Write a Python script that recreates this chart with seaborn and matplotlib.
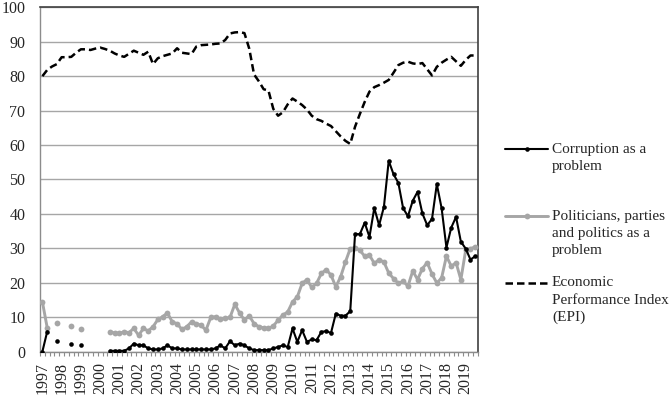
import numpy as np
import pandas as pd
import matplotlib.pyplot as plt
import seaborn as sns
from matplotlib.lines import Line2D

nan = np.nan

# quarterly observations, 1997 Q1 .. 2019 Q3
years = list(range(1997, 2020))

corruption = [
    0.0, 5.8, nan, 3.1, nan, nan, 2.1, nan, 1.9, nan, nan, nan, nan, nan,
    0.2, 0.2, 0.2, 0.2, 0.9, 2.3, 1.8, 1.8, 0.9, 0.6, 0.6, 0.9, 1.8, 0.9, 0.9,
    0.6, 0.6, 0.6, 0.6, 0.6, 0.6, 0.6, 0.9, 1.8, 0.9, 3.0, 1.8, 2.3, 1.8,
    0.9, 0.4, 0.4, 0.4, 0.4, 0.9, 1.3, 1.8, 1.3, 6.7, 2.8, 6.2, 2.8, 3.5, 3.3,
    5.7, 5.9, 5.4, 11.0, 10.4, 10.4, 11.7, 34.1, 34.1, 37.4, 33.3, 41.7, 36.7,
    42.0, 55.4, 51.5, 49.0, 41.6, 39.3, 43.8, 46.4, 40.1, 36.7, 38.5, 48.6,
    41.6, 30.2, 36.0, 39.1, 31.9, 29.9, 26.7, 27.7,
]

politicians = [
    14.4, 6.9, nan, 8.4, nan, nan, 7.4, nan, 6.4, nan, nan, nan, nan, nan,
    5.7, 5.4, 5.3, 5.7, 5.5, 6.7, 4.7, 6.7, 6.0, 7.2, 9.3, 10.1, 11.2, 8.6, 8.1,
    6.4, 7.2, 8.6, 8.1, 7.6, 6.2, 9.9, 10.1, 9.3, 9.6, 9.9, 13.7, 11.2, 9.1,
    10.4, 8.1, 7.2, 6.9, 6.7, 7.4, 9.1, 10.6, 11.5, 14.4, 15.9, 19.8, 20.9,
    18.6, 19.8, 22.7, 23.8, 22.2, 18.8, 21.7, 26.0, 29.9, 30.2, 29.4, 27.7,
    28.0, 25.6, 26.7, 26.0, 22.8, 21.2, 19.8, 20.4, 19.0, 23.4, 20.9, 24.1,
    25.8, 22.5, 19.9, 21.4, 27.7, 24.8, 25.8, 20.9, 29.4, 29.9, 30.4,
]

epi = [
    80.0, 81.8, 82.8, 83.5, 85.5, 85.5, 85.6, 86.8, 87.8, 87.8, 87.6, 88.0,
    88.3, 87.9, 87.4, 86.6, 86.0, 85.6, 86.5, 87.4, 86.8, 86.2, 87.1, 83.5,
    85.2, 85.8, 86.2, 86.6, 88.1, 86.8, 86.6, 86.4, 88.6, 89.0, 89.1, 89.2,
    89.4, 89.5, 90.5, 92.4, 92.7, 92.8, 92.5, 88.0, 80.5, 78.5, 76.2, 75.8,
    70.5, 68.5, 69.5, 71.8, 73.5, 72.6, 71.6, 70.3, 68.5, 67.5, 67.0, 66.2,
    65.5, 64.0, 62.5, 61.2, 60.3, 65.3, 69.0, 72.5, 75.5, 76.8, 77.4, 78.1,
    78.9, 81.0, 83.2, 83.9, 84.2, 83.7, 83.5, 83.8, 82.0, 80.2, 82.7, 83.9,
    84.8, 85.6, 84.3, 83.0, 84.7, 86.0, 86.0,
]

labels = ["Corruption as a\nproblem",
          "Politicians, parties\nand politics as a\nproblem",
          "Economic\nPerformance Index\n(EPI)"]

n = len(epi)
q = np.arange(n)


def segments(values):
    s = pd.Series(values, dtype=float)
    df = pd.DataFrame({"q": q, "val": s, "seg": s.isna().cumsum()})
    return df.dropna()


sns.set_style("white")
plt.rcParams["font.family"] = ["Liberation Serif", "DejaVu Serif"]

W, H = 671, 397
fig = plt.figure(figsize=(W / 100, H / 100), dpi=100)
ax = fig.add_axes([40 / W, 1 - 351.5 / H, 437.7 / W, 344.2 / H])

grey = "#a6a6a6"
dash = (0, (3, 1.6))
sns.lineplot(data=segments(politicians), x="q", y="val", units="seg",
             estimator=None, color=grey, lw=2.1, marker="o", ms=4.2,
             mec=grey, mew=0, legend=False, ax=ax, zorder=3)
sns.lineplot(data=segments(corruption), x="q", y="val", units="seg",
             estimator=None, color="black", lw=1.5, marker="o", ms=3.3,
             mec="black", mew=0, legend=False, ax=ax, zorder=4)
sns.lineplot(x=q, y=epi, color="black", lw=1.8, linestyle=dash,
             legend=False, ax=ax, zorder=5)
ax.lines[-1].set_dash_capstyle("butt")

ax.set_xlim(-0.5, n - 0.5)
ax.set_ylim(0, 100)
ax.set_yticks(range(0, 101, 10))
ax.yaxis.grid(True, color="#a6a6a6", lw=1.0)
ax.set_axisbelow(True)
ax.tick_params(axis="y", length=0, pad=10.5, labelsize=11.5)

ax.set_xticks([4 * i for i in range(len(years))])
ax.set_xticklabels([str(y) for y in years], rotation=90)
ax.set_xticks(np.arange(-0.5, n, 1), minor=True)
ax.tick_params(axis="x", which="major", length=0, pad=7.5, labelsize=11.5)
ax.tick_params(axis="x", which="minor", length=3, width=0.8,
               color="#8c8c8c", direction="out", bottom=True)
ax.set_xlabel("")
ax.set_ylabel("")

for side in ["left", "bottom"]:
    ax.spines[side].set_color("#8c8c8c")
    ax.spines[side].set_linewidth(1.0)
for side in ["top", "right"]:
    ax.spines[side].set_color("#404040")
    ax.spines[side].set_linewidth(1.2)

# legend on the right, drawn by hand to match the layout
handles = [
    dict(color="black", lw=1.5, ls="-", marker="o", ms=3.3),
    dict(color=grey, lw=2.1, ls="-", marker="o", ms=4.2),
    dict(color="black", lw=1.8, ls=dash, marker=None, ms=0),
]
entry_y = [149, 216, 283]
for lab, hy, hk in zip(labels, entry_y, handles):
    yy = 1 - hy / H
    fig.add_artist(Line2D([505 / W, 548 / W], [yy, yy], color=hk["color"],
                          lw=hk["lw"], ls=hk["ls"],
                          dash_capstyle="butt", transform=fig.transFigure))
    if hk["marker"]:
        fig.add_artist(Line2D([526.5 / W], [yy], color=hk["color"],
                              marker="o", ms=hk["ms"], mew=0,
                              transform=fig.transFigure))
    for k, txt in enumerate(lab.split("\n")):
        fig.text(552 / W, 1 - (hy + 17.3 * k) / H, txt, ha="left",
                 va="center", fontsize=11)

fig.savefig("out.png", dpi=100)
